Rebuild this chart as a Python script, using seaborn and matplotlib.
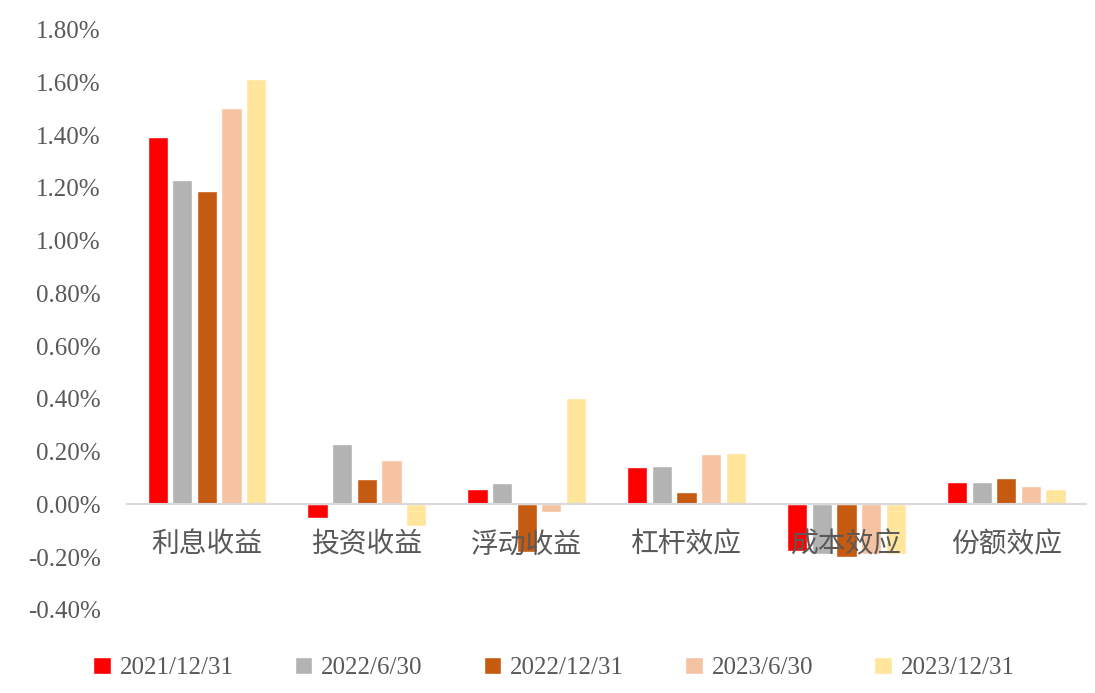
import pandas as pd
import matplotlib.pyplot as plt
import seaborn as sns
from matplotlib.ticker import FuncFormatter

categories = ["利息收益", "投资收益", "浮动收益", "杠杆效应", "成本效应", "份额效应"]
periods = ["2021/12/31", "2022/6/30", "2022/12/31", "2023/6/30", "2023/12/31"]

# values in %
v_2021_12 = [1.395, -0.053, 0.057, 0.140, -0.177, 0.085]
v_2022_06 = [1.230, 0.230, 0.080, 0.144, -0.190, 0.085]
v_2022_12 = [1.188, 0.095, -0.180, 0.047, -0.200, 0.099]
v_2023_06 = [1.502, 0.168, -0.030, 0.190, -0.190, 0.068]
v_2023_12 = [1.612, -0.082, 0.402, 0.193, -0.190, 0.057]

colors = ["#FF0000", "#B3B3B3", "#C55A11", "#F5C3A1", "#FFE69C"]

series = [v_2021_12, v_2022_06, v_2022_12, v_2023_06, v_2023_12]
rows = []
for p, vals in zip(periods, series):
    for c, v in zip(categories, vals):
        rows.append({"类别": c, "日期": p, "值": v})
df = pd.DataFrame(rows)

sns.set_theme(style="white")
plt.rcParams['font.family'] = ['Liberation Serif', 'Noto Sans CJK SC', 'DejaVu Sans']

fig = plt.figure(figsize=(10.95, 6.93), dpi=100)
ax = fig.add_axes([0.116, 0.12, 0.876, 0.837])

sns.barplot(data=df, x="类别", y="值", hue="日期",
            order=categories, hue_order=periods, palette=colors,
            width=0.77, gap=0.18, saturation=1, ax=ax, legend=True)

ax.set_ylim(-0.4, 1.8)
ax.set_xlim(-0.5, 5.5)
ax.set_yticks([-0.4 + 0.2 * i for i in range(12)])
ax.yaxis.set_major_formatter(FuncFormatter(lambda v, _: f"{v:.2f}%"))
ax.set_xlabel("")
ax.set_ylabel("")
# category labels sit on top of the negative bars, like the original
ax.set_axisbelow(False)

for s in ["top", "right", "left"]:
    ax.spines[s].set_visible(False)
ax.spines["bottom"].set_position(("data", 0))
ax.spines["bottom"].set_color("#D9D9D9")
ax.spines["bottom"].set_linewidth(1.5)

ax.tick_params(axis="y", length=0, labelsize=18, labelcolor="#595959", pad=19)
ax.tick_params(axis="x", length=0, pad=18)
for lab in ax.get_xticklabels():
    lab.set_family(['Noto Sans CJK SC', 'DejaVu Sans'])
    lab.set_fontsize(20)
    lab.set_color("#595959")

ax.legend(loc="center", bbox_to_anchor=(0.445, -0.1), ncol=5, frameon=False,
          fontsize=18, labelcolor="#595959", handlelength=0.7, handleheight=0.7,
          handletextpad=0.35, columnspacing=2.45)

fig.savefig("out.png", dpi=100)
